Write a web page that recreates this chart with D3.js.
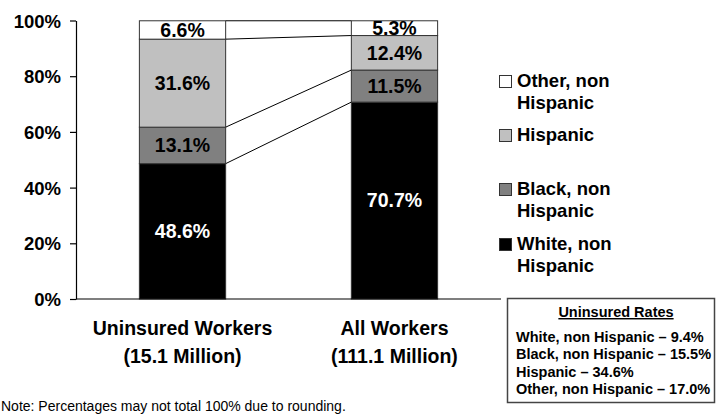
<!DOCTYPE html>
<html>
<head>
<meta charset="utf-8">
<script src="https://cdn.jsdelivr.net/npm/d3@7/dist/d3.min.js"></script>
<style>
  html, body { margin: 0; padding: 0; background: #fff; }
  svg { display: block; font-family: "Liberation Sans", Arial, sans-serif; }
</style>
</head>
<body>
<svg id="chart" width="716" height="415"></svg>
<script>
// Racial/ethnic composition of workers (percent of each group)
const categories = ["Uninsured Workers", "All Workers"];
const categorySub = ["(15.1 Million)", "(111.1 Million)"];
const seriesNames = ["White, non Hispanic", "Black, non Hispanic", "Hispanic", "Other, non Hispanic"];
const white = [48.6, 70.7];
const black = [13.1, 11.5];
const hispanic = [31.6, 12.4];
const other = [6.6, 5.3];
const yTicks = [0, 20, 40, 60, 80, 100];
const legendLines = [
  ["Other, non", "Hispanic"],
  ["Hispanic"],
  ["Black, non", "Hispanic"],
  ["White, non", "Hispanic"]
];
const ratesTitle = "Uninsured Rates";
const ratesLines = [
  "White, non Hispanic \u2013 9.4%",
  "Black, non Hispanic \u2013 15.5%",
  "Hispanic \u2013 34.6%",
  "Other, non Hispanic \u2013 17.0%"
];
const note = "Note: Percentages may not total 100% due to rounding.";

const colors = ["#000000", "#808080", "#c0c0c0", "#ffffff"];
const seriesValues = [white, black, hispanic, other];

const svg = d3.select("#chart");

const x0 = 76, x1 = 501;
const y = d3.scaleLinear().domain([0, 100]).range([299, 20.5]);
const x = d3.scaleBand().domain(categories).range([x0, x1])
  .paddingInner(0.593).paddingOuter(0.299);

// stacked data
const rows = categories.map((c, i) => {
  const r = { cat: c };
  seriesNames.forEach((s, k) => r[s] = seriesValues[k][i]);
  return r;
});
const stacked = d3.stack().keys(seriesNames)(rows);

// series connector lines between the tops of each segment
const g = svg.append("g");
stacked.forEach(layer => {
  g.append("line")
    .attr("x1", x(categories[0]) + x.bandwidth())
    .attr("y1", y(layer[0][1]))
    .attr("x2", x(categories[1]))
    .attr("y2", y(layer[1][1]))
    .attr("stroke", "#000").attr("stroke-width", 1);
});

// bars
stacked.forEach((layer, k) => {
  g.selectAll(null).data(layer).enter().append("rect")
    .attr("x", d => x(d.data.cat))
    .attr("width", x.bandwidth())
    .attr("y", d => y(d[1]))
    .attr("height", d => y(d[0]) - y(d[1]))
    .attr("fill", colors[k])
    .attr("stroke", "#333").attr("stroke-width", 1);
});

// value labels
stacked.forEach((layer, k) => {
  g.selectAll(null).data(layer).enter().append("text")
    .attr("x", d => x(d.data.cat) + x.bandwidth() / 2)
    .attr("y", d => (y(d[0]) + y(d[1])) / 2 + 6.8)
    .attr("text-anchor", "middle")
    .attr("font-size", 19.5).attr("font-weight", "bold")
    .attr("fill", k === 0 ? "#fff" : "#000")
    .text(d => (d[1] - d[0]).toFixed(1) + "%");
});

// y axis
const yAxis = d3.axisLeft(y).tickValues(yTicks).tickSize(6).tickSizeOuter(0)
  .tickFormat(d => d + "%");
const ya = svg.append("g").attr("transform", `translate(${x0},0)`).call(yAxis);
ya.select(".domain").attr("stroke", "#000").attr("stroke-width", 1.2);
ya.selectAll(".tick line").attr("stroke", "#000").attr("stroke-width", 1.2);
ya.selectAll(".tick text")
  .attr("x", -15).attr("dy", "0.36em")
  .attr("font-size", 18.5).attr("font-weight", "bold")
  .attr("font-family", "'Liberation Sans', Arial, sans-serif")
  .attr("fill", "#000");

// x baseline
svg.append("line").attr("x1", x0).attr("x2", x1)
  .attr("y1", y(0)).attr("y2", y(0))
  .attr("stroke", "#000").attr("stroke-width", 1.2);

// category labels
categories.forEach((c, i) => {
  const cx = x(c) + x.bandwidth() / 2;
  svg.append("text").attr("x", cx).attr("y", 335)
    .attr("text-anchor", "middle").attr("font-size", 19.5).attr("font-weight", "bold")
    .text(c);
  svg.append("text").attr("x", cx).attr("y", 363)
    .attr("text-anchor", "middle").attr("font-size", 19.5).attr("font-weight", "bold")
    .text(categorySub[i]);
});

// legend (top series first)
const legendBase = [87, 141, 195, 250];
const legendColors = colors.slice().reverse();
legendLines.forEach((lines, i) => {
  const by = legendBase[i];
  svg.append("rect").attr("x", 499.5).attr("y", by - 11.5)
    .attr("width", 12).attr("height", 12)
    .attr("fill", legendColors[i]).attr("stroke", "#333").attr("stroke-width", 1);
  lines.forEach((t, j) => {
    svg.append("text").attr("x", 517).attr("y", by + j * 22)
      .attr("font-size", 18.5).attr("font-weight", "bold").text(t);
  });
});

// uninsured rates box
svg.append("rect").attr("x", 507.5).attr("y", 298.5)
  .attr("width", 207).attr("height", 104)
  .attr("fill", "#fff").attr("stroke", "#444").attr("stroke-width", 1.5);
svg.append("text").attr("x", 616).attr("y", 317)
  .attr("text-anchor", "middle").attr("font-size", 14.5).attr("font-weight", "bold")
  .attr("text-decoration", "underline").text(ratesTitle);
ratesLines.forEach((t, i) => {
  svg.append("text").attr("x", 516).attr("y", 342 + i * 17.4)
    .attr("font-size", 14.5).attr("font-weight", "bold").text(t);
});

// footnote
svg.append("text").attr("x", 1).attr("y", 410.5)
  .attr("font-size", 14).text(note);
</script>
</body>
</html>
